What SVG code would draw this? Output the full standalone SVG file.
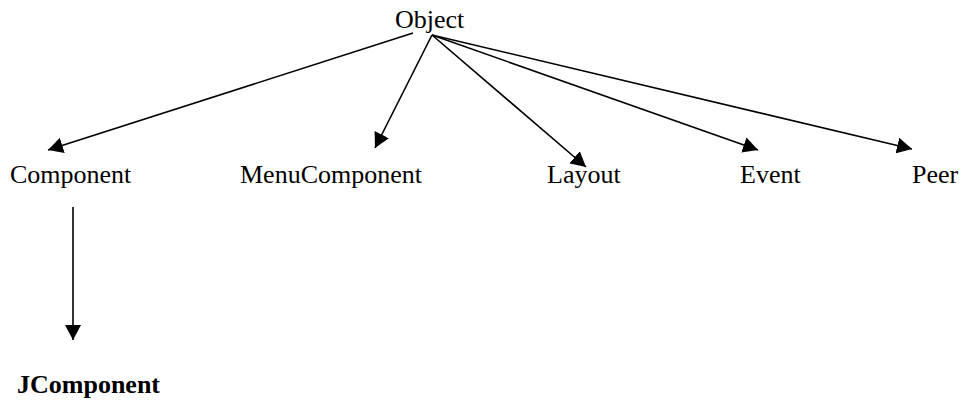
<svg xmlns="http://www.w3.org/2000/svg" width="963" height="401" viewBox="0 0 963 401">
<style>
.t{font-family:"Liberation Serif","Times New Roman",serif;font-size:26px;fill:#000}
.b{font-weight:bold}
.e{stroke:#000;stroke-width:1.6;fill:none}
</style>
<defs>
<marker id="ah" markerUnits="userSpaceOnUse" markerWidth="16" markerHeight="16" refX="15" refY="8" orient="auto">
<path d="M0,0 L15,8 L0,16 z" fill="#000"/>
</marker>
</defs>
<rect width="963" height="401" fill="#fff"/>
<g id="connectors">
<line class="e" x1="413" y1="33" x2="48" y2="150" marker-end="url(#ah)"/>
<line class="e" x1="432" y1="35" x2="375" y2="148" marker-end="url(#ah)"/>
<line class="e" x1="432" y1="35" x2="586" y2="167" marker-end="url(#ah)"/>
<line class="e" x1="432" y1="35" x2="758" y2="150" marker-end="url(#ah)"/>
<line class="e" x1="432" y1="35" x2="912" y2="149" marker-end="url(#ah)"/>
<line class="e" x1="73" y1="207" x2="73" y2="340" marker-end="url(#ah)"/>
</g>
<g id="object"><text class="t" x="395" y="28">Object</text></g>
<g id="component"><text class="t" x="10" y="183">Component</text></g>
<g id="menucomponent"><text class="t" x="240" y="183">MenuComponent</text></g>
<g id="layout"><text class="t" x="547" y="183">Layout</text></g>
<g id="event"><text class="t" x="740" y="183">Event</text></g>
<g id="peer"><text class="t" x="912" y="183">Peer</text></g>
<g id="jcomponent"><text class="t b" x="17" y="393">JComponent</text></g>
</svg>
